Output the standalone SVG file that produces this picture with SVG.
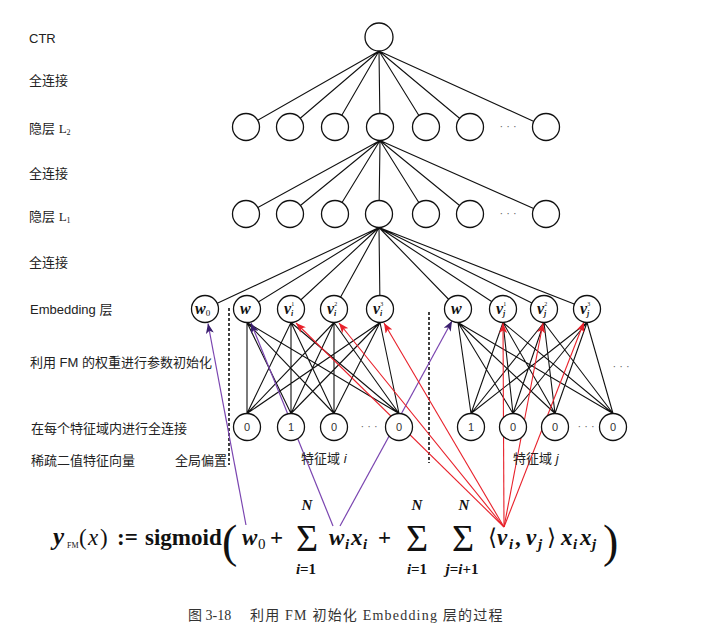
<svg xmlns="http://www.w3.org/2000/svg" width="708" height="635" viewBox="0 0 708 635">
<style>
.n{fill:#fff;stroke:#111;stroke-width:1.3}
.c{stroke:#111;stroke-width:1.1;fill:none}
.pu{stroke:#7a45b0;stroke-width:1.2;fill:none}
.rd{stroke:#e8202a;stroke-width:1.1;fill:none}
.lb{font-family:"Liberation Sans","Noto Sans CJK SC",sans-serif;font-size:13px;fill:#222}
.num{font-family:"Liberation Sans",sans-serif;font-size:11px;fill:#333;text-anchor:middle}
.ev{font-family:"Liberation Serif",serif;font-style:italic;font-weight:bold;font-size:16px;fill:#111}
.dots{font-family:"Liberation Sans",sans-serif;font-size:11px;fill:#666;text-anchor:middle}
.f{font-family:"Liberation Serif","DejaVu Serif",serif;font-weight:bold;fill:#111}
.it{font-style:italic}
.cap{font-family:"Liberation Serif","Noto Sans CJK SC",serif;font-size:14px;fill:#333}
</style>
<defs>
<marker id="ap" markerUnits="userSpaceOnUse" markerWidth="11" markerHeight="8" refX="10" refY="4" orient="auto"><path d="M0,0 L10,4 L0,8 L2.5,4 z" fill="#3a1f6e"/></marker>
<marker id="ar" markerUnits="userSpaceOnUse" markerWidth="11" markerHeight="8" refX="10" refY="4" orient="auto"><path d="M0,0 L10,4 L0,8 L2.5,4 z" fill="#e8202a"/></marker>
</defs>

<g id="connectors">
<path class="c" d="M379,51 L246,127 M379,51 L290,127 M379,51 L335,127 M379,51 L380,127 M379,51 L426,127 M379,51 L470,127 M379,51 L546,127"/>
<path class="c" d="M380,140.5 L246,214 M380,140.5 L290,214 M380,140.5 L335,214 M380,140.5 L379,214 M380,140.5 L426,214 M380,140.5 L470,214 M380,140.5 L546,214"/>
<path class="c" d="M379,227.5 L205,309 M379,227.5 L247,309 M379,227.5 L291,309 M379,227.5 L334,309 M379,227.5 L380,309 M379,227.5 L458,309 M379,227.5 L503,309 M379,227.5 L544,309 M379,227.5 L587,309"/>
<path class="c" d="M247,413.5 L247,322.5 M247,413.5 L291,322.5 M247,413.5 L334,322.5 M247,413.5 L380,322.5
M291,413.5 L247,322.5 M291,413.5 L291,322.5 M291,413.5 L334,322.5 M291,413.5 L380,322.5
M334,413.5 L247,322.5 M334,413.5 L291,322.5 M334,413.5 L334,322.5 M334,413.5 L380,322.5
M399,413.5 L247,322.5 M399,413.5 L291,322.5 M399,413.5 L334,322.5 M399,413.5 L380,322.5"/>
<path class="c" d="M471,413.5 L458,322.5 M471,413.5 L503,322.5 M471,413.5 L544,322.5 M471,413.5 L587,322.5
M513,413.5 L458,322.5 M513,413.5 L503,322.5 M513,413.5 L544,322.5 M513,413.5 L587,322.5
M555,413.5 L458,322.5 M555,413.5 L503,322.5 M555,413.5 L544,322.5 M555,413.5 L587,322.5
M613,413.5 L458,322.5 M613,413.5 L503,322.5 M613,413.5 L544,322.5 M613,413.5 L587,322.5"/>
<line x1="229" y1="308" x2="229" y2="465" stroke="#111" stroke-width="1.6" stroke-dasharray="3,2"/>
<line x1="429" y1="312" x2="429" y2="463" stroke="#111" stroke-width="1.6" stroke-dasharray="3,2"/>
<line class="pu" x1="246" y1="525" x2="208" y2="323.5" marker-end="url(#ap)"/>
<line class="pu" x1="333" y1="526" x2="251" y2="323" marker-end="url(#ap)"/>
<line class="pu" x1="340" y1="526" x2="452" y2="321" marker-end="url(#ap)"/>
<line class="rd" x1="504" y1="527" x2="296" y2="323" marker-end="url(#ar)"/>
<line class="rd" x1="504" y1="527" x2="339" y2="323" marker-end="url(#ar)"/>
<line class="rd" x1="504" y1="527" x2="384" y2="323" marker-end="url(#ar)"/>
<line class="rd" x1="504" y1="527" x2="503" y2="323" marker-end="url(#ar)"/>
<line class="rd" x1="504" y1="527" x2="543" y2="323" marker-end="url(#ar)"/>
<line class="rd" x1="504" y1="527" x2="584" y2="322" marker-end="url(#ar)"/>
</g>

<g id="ctr"><circle class="n" cx="379" cy="37" r="14"/></g>

<g id="hidden-L2">
<circle class="n" cx="246" cy="127" r="13.5"/>
<circle class="n" cx="290" cy="127" r="13.5"/>
<circle class="n" cx="335" cy="127" r="13.5"/>
<circle class="n" cx="380" cy="127" r="13.5"/>
<circle class="n" cx="426" cy="127" r="13.5"/>
<circle class="n" cx="470" cy="127" r="13.5"/>
<circle class="n" cx="546" cy="127" r="13.5"/>
<text class="dots" x="508" y="130">· · ·</text>
</g>

<g id="hidden-L1">
<circle class="n" cx="246" cy="214" r="13.5"/>
<circle class="n" cx="290" cy="214" r="13.5"/>
<circle class="n" cx="335" cy="214" r="13.5"/>
<circle class="n" cx="379" cy="214" r="13.5"/>
<circle class="n" cx="426" cy="214" r="13.5"/>
<circle class="n" cx="470" cy="214" r="13.5"/>
<circle class="n" cx="546" cy="214" r="13.5"/>
<text class="dots" x="508" y="217">· · ·</text>
</g>

<g id="emb-w0"><circle class="n" cx="205" cy="309" r="13.5"/><text class="ev" x="195" y="314">w<tspan font-size="9" font-style="normal" font-weight="normal" dy="2">0</tspan></text></g>
<g id="emb-wi"><circle class="n" cx="247" cy="309" r="13.5"/><text class="ev" x="240" y="314">w</text></g>
<g id="emb-vi1"><circle class="n" cx="291" cy="309" r="13.5"/><text class="ev" x="284" y="314">v<tspan font-size="8" dy="2">i</tspan><tspan font-size="6" font-style="normal" font-weight="normal" dx="-2" dy="-10">1</tspan></text></g>
<g id="emb-vi2"><circle class="n" cx="334" cy="309" r="13.5"/><text class="ev" x="327" y="314">v<tspan font-size="8" dy="2">i</tspan><tspan font-size="6" font-style="normal" font-weight="normal" dx="-2" dy="-10">2</tspan></text></g>
<g id="emb-vi3"><circle class="n" cx="380" cy="309" r="13.5"/><text class="ev" x="373" y="314">v<tspan font-size="8" dy="2">i</tspan><tspan font-size="6" font-style="normal" font-weight="normal" dx="-2" dy="-10">3</tspan></text></g>
<g id="emb-wj"><circle class="n" cx="458" cy="309" r="13.5"/><text class="ev" x="451" y="314">w</text></g>
<g id="emb-vj1"><circle class="n" cx="503" cy="309" r="13.5"/><text class="ev" x="496" y="314">v<tspan font-size="8" dy="2">j</tspan><tspan font-size="6" font-style="normal" font-weight="normal" dx="-2" dy="-10">1</tspan></text></g>
<g id="emb-vj2"><circle class="n" cx="544" cy="309" r="13.5"/><text class="ev" x="537" y="314">v<tspan font-size="8" dy="2">j</tspan><tspan font-size="6" font-style="normal" font-weight="normal" dx="-2" dy="-10">2</tspan></text></g>
<g id="emb-vj3"><circle class="n" cx="587" cy="309" r="13.5"/><text class="ev" x="580" y="314">v<tspan font-size="8" dy="2">j</tspan><tspan font-size="6" font-style="normal" font-weight="normal" dx="-2" dy="-10">3</tspan></text></g>

<g id="input-i">
<circle class="n" cx="247" cy="427" r="13.5"/><text class="num" x="247" y="431">0</text>
<circle class="n" cx="291" cy="427" r="13.5"/><text class="num" x="291" y="431">1</text>
<circle class="n" cx="334" cy="427" r="13.5"/><text class="num" x="334" y="431">0</text>
<text class="dots" x="369" y="430">· · ·</text>
<circle class="n" cx="399" cy="427" r="13.5"/><text class="num" x="399" y="431">0</text>
</g>
<g id="input-j">
<circle class="n" cx="471" cy="427" r="13.5"/><text class="num" x="471" y="431">1</text>
<circle class="n" cx="513" cy="427" r="13.5"/><text class="num" x="513" y="431">0</text>
<circle class="n" cx="555" cy="427" r="13.5"/><text class="num" x="555" y="431">0</text>
<text class="dots" x="586" y="430">· · ·</text>
<circle class="n" cx="613" cy="427" r="13.5"/><text class="num" x="613" y="431">0</text>
</g>
<text class="dots" x="621" y="370">· · ·</text>

<g id="labels">
<text class="lb" x="29" y="43">CTR</text>
<text class="lb" x="29" y="85">全连接</text>
<text class="lb" x="29" y="133">隐层 <tspan font-family="Liberation Serif">L</tspan><tspan font-family="Liberation Serif" font-size="8" dy="2">2</tspan></text>
<text class="lb" x="29" y="178">全连接</text>
<text class="lb" x="29" y="221">隐层 <tspan font-family="Liberation Serif">L</tspan><tspan font-family="Liberation Serif" font-size="8" dy="2">1</tspan></text>
<text class="lb" x="29" y="267">全连接</text>
<text class="lb" x="30" y="314">Embedding 层</text>
<text class="lb" x="30" y="367">利用 FM 的权重进行参数初始化</text>
<text class="lb" x="31" y="433">在每个特征域内进行全连接</text>
<text class="lb" x="31" y="465">稀疏二值特征向量</text>
<text class="lb" x="175" y="465">全局偏置</text>
<text class="lb" x="301" y="463">特征域 <tspan font-style="italic">i</tspan></text>
<text class="lb" x="513" y="463">特征域 <tspan font-style="italic">j</tspan></text>
</g>

<g id="formula">
<text class="f" y="545" style="font-size:23px"><tspan class="it" x="53" font-size="25">y</tspan><tspan x="67" y="548" font-size="8" font-weight="normal">FM</tspan><tspan x="79" y="545" font-weight="normal">(</tspan><tspan class="it" x="88" font-weight="normal">x</tspan><tspan x="100" font-weight="normal">)</tspan><tspan x="117">:=</tspan><tspan x="145">sigmoid</tspan></text>
<text class="f" x="222" y="557" style="font-size:46px;font-weight:normal">(</text>
<text class="f" y="545" style="font-size:23px"><tspan class="it" x="242">w</tspan><tspan x="258" y="549" font-size="15" font-weight="normal">0</tspan><tspan x="270" y="545">+</tspan></text>
<text class="f" x="307" y="551" style="font-size:38px;font-weight:normal" text-anchor="middle">Σ</text>
<text class="f it" x="307" y="510" style="font-size:15px" text-anchor="middle">N</text>
<text class="f" x="306" y="574" style="font-size:15px" text-anchor="middle"><tspan class="it">i</tspan>=1</text>
<text class="f" y="545" style="font-size:23px"><tspan class="it" x="329">w</tspan><tspan class="it" x="345" y="549" font-size="15">i</tspan><tspan class="it" x="351" y="545">x</tspan><tspan class="it" x="363" y="549" font-size="15">i</tspan><tspan x="378" y="545">+</tspan></text>
<text class="f" x="417" y="551" style="font-size:38px;font-weight:normal" text-anchor="middle">Σ</text>
<text class="f it" x="417" y="510" style="font-size:15px" text-anchor="middle">N</text>
<text class="f" x="417" y="574" style="font-size:15px" text-anchor="middle"><tspan class="it">i</tspan>=1</text>
<text class="f" x="463" y="551" style="font-size:38px;font-weight:normal" text-anchor="middle">Σ</text>
<text class="f it" x="464" y="510" style="font-size:15px" text-anchor="middle">N</text>
<text class="f" x="462" y="574" style="font-size:15px" text-anchor="middle"><tspan class="it">j</tspan>=<tspan class="it">i</tspan>+1</text>
<text class="f" y="545" style="font-size:23px"><tspan x="488" font-weight="normal">⟨</tspan><tspan class="it" x="497">v</tspan><tspan class="it" x="509" y="549" font-size="15">i</tspan><tspan x="515" y="545">,</tspan><tspan class="it" x="526">v</tspan><tspan class="it" x="538" y="549" font-size="15">j</tspan><tspan x="547" y="545" font-weight="normal">⟩</tspan><tspan class="it" x="561">x</tspan><tspan class="it" x="573" y="549" font-size="15">i</tspan><tspan class="it" x="580" y="545">x</tspan><tspan class="it" x="592" y="549" font-size="15">j</tspan></text>
<text class="f" x="603" y="557" style="font-size:46px;font-weight:normal">)</text>
</g>

<g id="caption">
<text class="cap" x="188" y="620">图 3-18</text>
<text class="cap" x="250" y="620" letter-spacing="1.2">利用 FM 初始化 Embedding 层的过程</text>
</g>
</svg>
